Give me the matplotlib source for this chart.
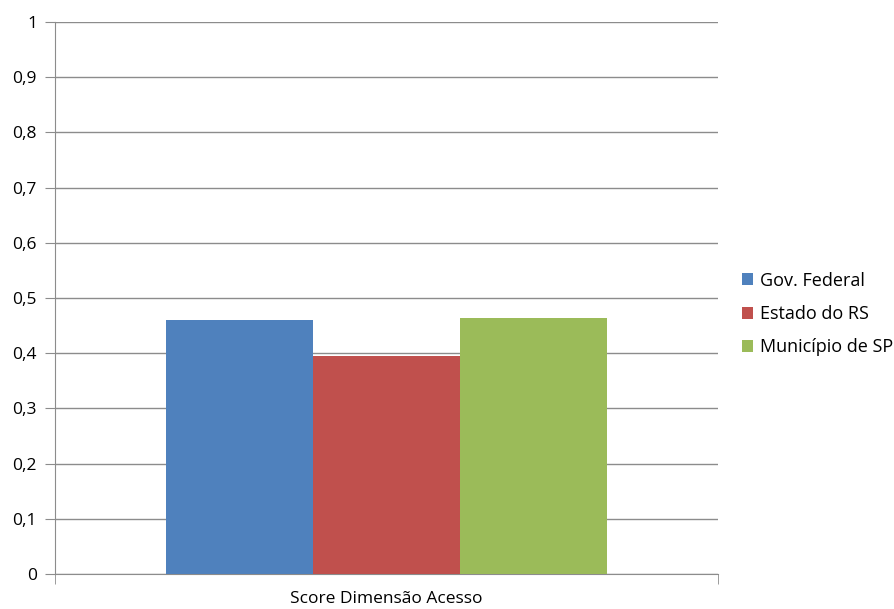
import numpy as np
import matplotlib.pyplot as plt

# Dados do gráfico
categoria = "Score Dimensão Acesso"
series = ["Gov. Federal", "Estado do RS", "Município de SP"]
valores = [0.461, 0.395, 0.463]
cores = ["#4F81BD", "#C0504D", "#9BBB59"]

plt.rcParams['font.family'] = ['Open Sans', 'DejaVu Sans']

fig = plt.figure(figsize=(8.94, 6.09), dpi=100)
ax = fig.add_axes([55 / 894, 1 - 574 / 609, 663 / 894, 552 / 609])

largura = 0.222
x = np.arange(len(series)) * largura - largura
for xi, v, c, s in zip(x, valores, cores, series):
    ax.bar(xi, v, width=largura, color=c, label=s, zorder=3)

ax.set_xlim(-0.5, 0.5)
ax.set_ylim(0, 1)
yt = np.round(np.arange(0, 1.01, 0.1), 1)
ax.set_yticks(yt)
ax.set_yticklabels(["0" if v == 0 else ("1" if v == 1 else f"{v:.1f}".replace(".", ",")) for v in yt],
                   fontsize=12.5, color="#000000")
ax.yaxis.grid(True, color="#8c8c8c", linewidth=1, zorder=0)
ax.tick_params(axis='y', length=7, color="#8c8c8c", pad=6)

ax.set_xticks([0])
ax.set_xticklabels([categoria], fontsize=12.5)
ax.tick_params(axis='x', which='major', length=0, pad=12)
ax.set_xticks([-0.5, 0.5], minor=True)
ax.tick_params(axis='x', which='minor', length=7, color="#8c8c8c")

for lado in ['top', 'right']:
    ax.spines[lado].set_visible(False)
for lado in ['left', 'bottom']:
    ax.spines[lado].set_color("#8c8c8c")

ax.legend(loc='center left', bbox_to_anchor=(1.022, 0.471), frameon=False,
          fontsize=13, handlelength=0.65, handleheight=0.65, handletextpad=0.35,
          labelspacing=0.85, borderpad=0)

fig.savefig("out.png", dpi=100)
